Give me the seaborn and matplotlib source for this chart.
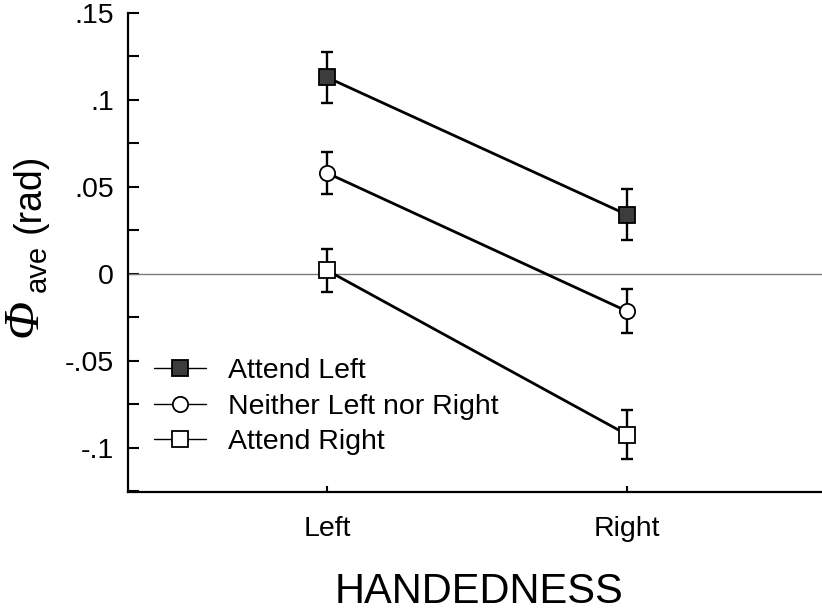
import numpy as np
import pandas as pd
import matplotlib
matplotlib.use("Agg")
import matplotlib.pyplot as plt
from matplotlib.ticker import FixedLocator, MultipleLocator
import seaborn as sns

# Handedness groups on the x axis
handedness = ["Left", "Right"]

# Mean phase (rad) and error bar half-widths per attention condition
attend_left = [0.113, 0.034]
attend_left_err = [0.0145, 0.0145]
neither = [0.058, -0.0215]
neither_err = [0.012, 0.0125]
attend_right = [0.002, -0.0925]
attend_right_err = [0.0125, 0.014]

series_names = ["Attend Left", "Neither Left nor Right", "Attend Right"]
y_tick_values = [-0.1, -0.05, 0.0, 0.05, 0.1, 0.15]
y_tick_labels = ["-.1", "-.05", "0", ".05", ".1", ".15"]

sns.set_theme(style="ticks")
plt.rcParams["font.family"] = ["Liberation Sans", "DejaVu Sans"]
plt.rcParams["text.color"] = "black"
plt.rcParams["axes.labelcolor"] = "black"

fig = plt.figure(figsize=(8.22, 6.15), dpi=100)
ax = fig.add_axes([128 / 822, 1 - 492 / 615, 1 - 128 / 822, (492 - 13) / 615])

x_pos = np.arange(len(handedness))
styles = [
    (attend_left, attend_left_err, "s", "#3c3c3c", 12),
    (neither, neither_err, "o", "white", 11),
    (attend_right, attend_right_err, "s", "white", 12),
]

ax.axhline(0, color="#7a7a7a", lw=1.0, zorder=1)

for name, (vals, errs, mk, fc, ms) in zip(series_names, styles):
    df = pd.DataFrame({"hand": x_pos, "phase": vals})
    ax.errorbar(x_pos, vals, yerr=errs, fmt="none", ecolor="black",
                elinewidth=1.7, capsize=4.3, capthick=1.7, zorder=2)
    sns.lineplot(data=df, x="hand", y="phase", ax=ax, color="black",
                 lw=2.0, marker=mk, markersize=ms, markerfacecolor=fc,
                 markeredgecolor="black", markeredgewidth=1.3,
                 label=name, zorder=3)

ax.set_xlim(-(327 - 128) / 300, (822 - 327) / 300)
ax.set_ylim(-0.1255, 0.15)

ax.xaxis.set_major_locator(FixedLocator(x_pos))
ax.set_xticklabels(handedness)
ax.yaxis.set_major_locator(FixedLocator(y_tick_values))
ax.set_yticklabels(y_tick_labels)
ax.yaxis.set_minor_locator(MultipleLocator(0.025))

ax.tick_params(axis="y", which="both", direction="in", length=8, width=1.5,
               labelsize=20.5, pad=10, colors="black")
ax.tick_params(axis="x", which="major", direction="in", length=4, width=1.5,
               labelsize=20.5, pad=17, colors="black")

for side in ["top", "right"]:
    ax.spines[side].set_visible(False)
for side in ["left", "bottom"]:
    ax.spines[side].set_linewidth(1.6)
    ax.spines[side].set_color("black")

ax.set_xlabel("")
ax.set_ylabel("")

leg = ax.legend(loc="center left", bbox_to_anchor=(0.038, 0.178), frameon=False,
                fontsize=20.5, handlelength=1.8, handletextpad=0.8,
                labelspacing=0.33, borderpad=0, borderaxespad=0)
for line in leg.get_lines():
    line.set_linewidth(1.0)
for t in leg.get_texts():
    t.set_color("black")

# Axis titles
fig.text(479 / 822, 1 - 592 / 615, "HANDEDNESS", ha="center", va="center",
         fontsize=30, color="black")
fig.text(24 / 822, 1 - 318 / 615, "\u03a6", rotation=90, ha="center",
         va="center", fontsize=36, family="Liberation Serif", style="italic",
         color="black")
fig.text(38 / 822, 1 - 268 / 615, "ave", rotation=90, ha="center",
         va="center", fontsize=21, color="black")
fig.text(30 / 822, 1 - 193 / 615, "(rad)", rotation=90, ha="center",
         va="center", fontsize=27, color="black")

fig.savefig("out.png", dpi=100)
